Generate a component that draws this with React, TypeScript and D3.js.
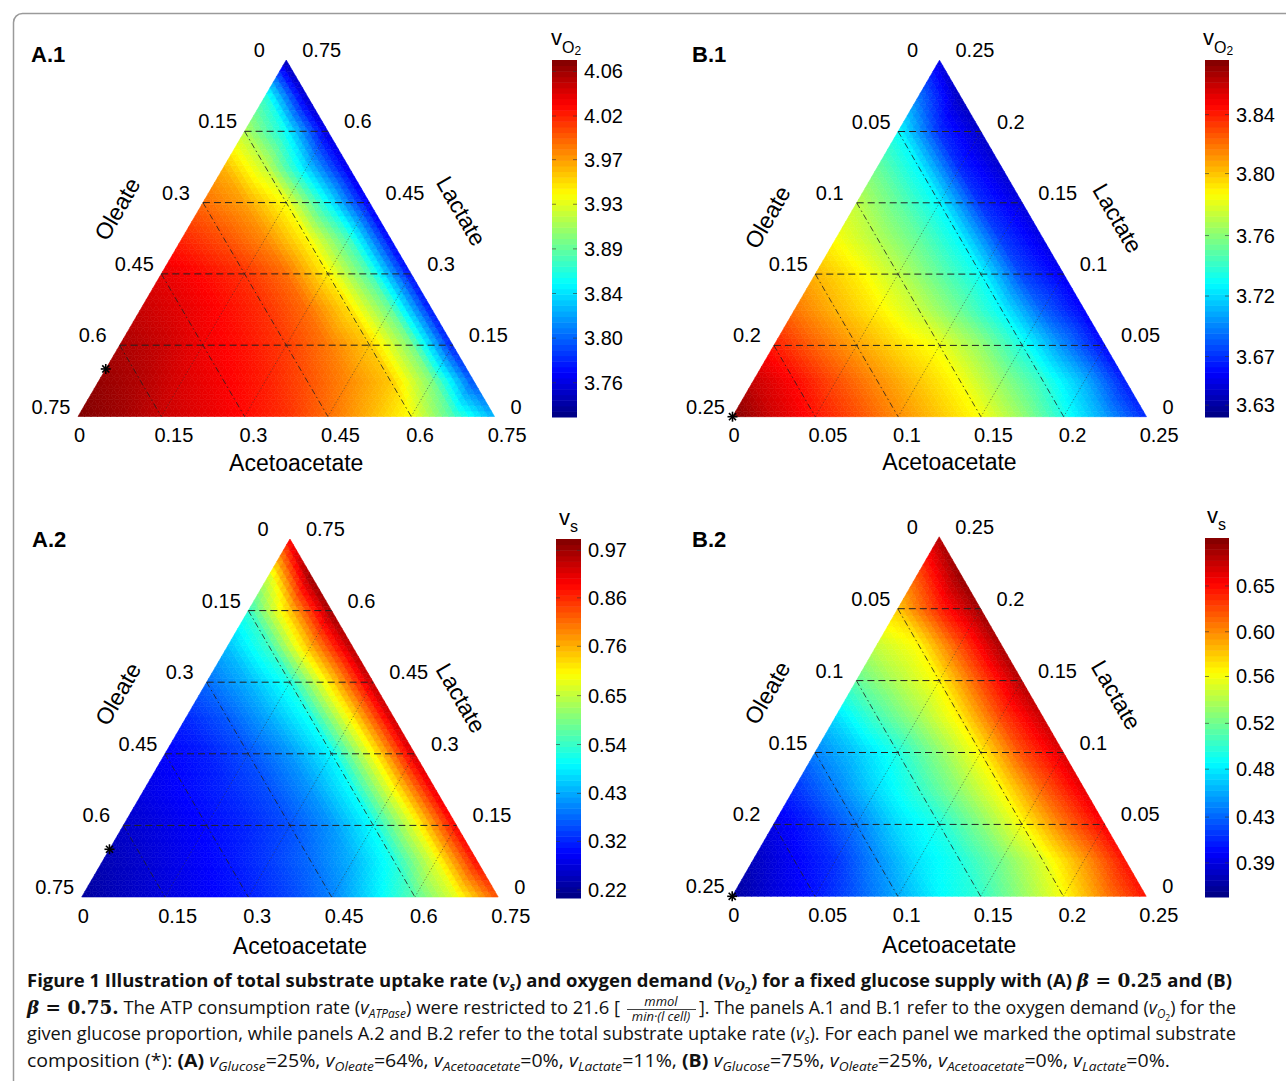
import React from "react";
import * as d3 from "d3";

// axis tick labels of the ternary plots (remaining share after glucose)
const ternTicksA = ["0", "0.15", "0.3", "0.45", "0.6", "0.75"];
const ternTicksB = ["0", "0.05", "0.1", "0.15", "0.2", "0.25"];

// values read at the 1/10 grid nodes
// row = lactate step (bottom -> top), column = acetoacetate step
const vO2_A = [
  [4.071, 4.061, 4.047, 4.037, 4.026, 4.013, 3.992, 3.968, 3.94, 3.882, 3.83],
  [4.064, 4.054, 4.04, 4.03, 4.019, 4.002, 3.982, 3.961, 3.899, 3.796],
  [4.057, 4.047, 4.033, 4.023, 4.009, 3.988, 3.961, 3.899, 3.779],
  [4.047, 4.037, 4.026, 4.013, 3.992, 3.954, 3.892, 3.775],
  [4.037, 4.026, 4.013, 3.992, 3.947, 3.882, 3.772],
  [4.016, 4.002, 3.982, 3.944, 3.878, 3.768],
  [3.992, 3.975, 3.94, 3.858, 3.765],
  [3.968, 3.923, 3.841, 3.761],
  [3.916, 3.858, 3.758],
  [3.871, 3.751],
  [3.744],
];
const vO2_B = [
  [3.879, 3.86, 3.845, 3.831, 3.816, 3.802, 3.787, 3.763, 3.734, 3.705, 3.676],
  [3.862, 3.848, 3.831, 3.816, 3.802, 3.787, 3.763, 3.739, 3.71, 3.673],
  [3.843, 3.826, 3.811, 3.797, 3.785, 3.763, 3.734, 3.7, 3.668],
  [3.821, 3.806, 3.792, 3.775, 3.753, 3.727, 3.69, 3.666],
  [3.806, 3.792, 3.773, 3.751, 3.729, 3.683, 3.664],
  [3.787, 3.77, 3.751, 3.727, 3.681, 3.661],
  [3.773, 3.751, 3.727, 3.678, 3.659],
  [3.753, 3.727, 3.676, 3.656],
  [3.729, 3.678, 3.654],
  [3.695, 3.652],
  [3.661],
];
const vs_A = [
  [0.226, 0.25, 0.273, 0.297, 0.321, 0.353, 0.4, 0.48, 0.567, 0.678, 0.836],
  [0.242, 0.265, 0.289, 0.313, 0.345, 0.384, 0.44, 0.519, 0.678, 0.892],
  [0.258, 0.281, 0.305, 0.329, 0.361, 0.416, 0.503, 0.678, 0.9],
  [0.281, 0.305, 0.329, 0.361, 0.416, 0.503, 0.694, 0.916],
  [0.297, 0.321, 0.361, 0.416, 0.495, 0.694, 0.932],
  [0.329, 0.369, 0.432, 0.511, 0.71, 0.939],
  [0.384, 0.44, 0.519, 0.725, 0.947],
  [0.448, 0.543, 0.757, 0.955],
  [0.535, 0.741, 0.971],
  [0.662, 0.979],
  [0.9],
];
const vs_B = [
  [0.369, 0.389, 0.406, 0.43, 0.457, 0.484, 0.501, 0.534, 0.568, 0.612, 0.649],
  [0.379, 0.399, 0.416, 0.447, 0.477, 0.494, 0.524, 0.558, 0.602, 0.649],
  [0.393, 0.413, 0.44, 0.474, 0.494, 0.528, 0.568, 0.615, 0.656],
  [0.416, 0.443, 0.474, 0.501, 0.534, 0.571, 0.622, 0.662],
  [0.443, 0.467, 0.494, 0.531, 0.571, 0.629, 0.666],
  [0.474, 0.507, 0.538, 0.575, 0.632, 0.672],
  [0.517, 0.544, 0.571, 0.629, 0.679],
  [0.551, 0.571, 0.629, 0.683],
  [0.588, 0.642, 0.686],
  [0.629, 0.689],
  [0.679],
];

// colorbars
const cbarDomainA1 = [3.727, 4.071];
const cbarTicksA1 = [4.06, 4.017, 3.975, 3.932, 3.889, 3.846, 3.803, 3.76];
const cbarLabelsA1 = ["4.06", "4.02", "3.97", "3.93", "3.89", "3.84", "3.80", "3.76"];
const cbarDomainB1 = [3.637, 3.879];
const cbarTicksB1 = [3.842, 3.802, 3.76, 3.719, 3.678, 3.645];
const cbarLabelsB1 = ["3.84", "3.80", "3.76", "3.72", "3.67", "3.63"];
const cbarDomainA2 = [0.202, 0.995];
const cbarTicksA2 = [0.97, 0.865, 0.758, 0.649, 0.541, 0.433, 0.327, 0.22];
const cbarLabelsA2 = ["0.97", "0.86", "0.76", "0.65", "0.54", "0.43", "0.32", "0.22"];
const cbarDomainB2 = [0.359, 0.696];
const cbarTicksB2 = [0.651, 0.608, 0.566, 0.522, 0.479, 0.434, 0.391];
const cbarLabelsB2 = ["0.65", "0.60", "0.56", "0.52", "0.48", "0.43", "0.39"];

// optimal composition marker (acetoacetate, lactate)
const optimumA = [0, 0.1];
const optimumB = [0, 0];

const FONT = "'Liberation Sans', Arial, sans-serif";

const jet = (t: number) => {
  const c = (v: number) => Math.max(0, Math.min(1, v));
  const r = c(1.5 - Math.abs(4 * t - 3));
  const g = c(1.5 - Math.abs(4 * t - 2));
  const b = c(1.5 - Math.abs(4 * t - 1));
  return d3.rgb(r * 255, g * 255, b * 255).formatHex();
};

// piecewise linear value on the node grid, a/l are fractions of the side
function interp(grid: number[][], a: number, l: number) {
  const n = grid.length - 1;
  const u = a * n, w = l * n;
  const i = Math.min(Math.floor(u), n - 1);
  const k = Math.min(Math.floor(w), n - 1 - i);
  const fu = u - i, fw = w - k;
  if (fu + fw <= 1) {
    return (1 - fu - fw) * grid[k][i] + fu * grid[k][i + 1] + fw * grid[k + 1][i];
  }
  return (1 - fu) * grid[k + 1][i] + (1 - fw) * grid[k][i + 1] + (fu + fw - 1) * grid[k + 1][i + 1];
}

function Panel(props: any) {
  const p = props.p;
  const side = +p.ticks[p.ticks.length - 1];
  const x = d3.scaleLinear().domain([0, side]).range([p.x0, p.x0 + p.W]);
  const y = d3.scaleLinear().domain([0, side]).range([p.base, p.base - p.H]);
  const pt = (ac: number, la: number) => [x(ac + la / 2), y(la)];
  const color = d3.scaleSequential(jet).domain(p.domain).clamp(true);

  // heat map triangles
  const N = 64;
  const cells: { d: string; c: string }[] = [];
  const tri = (vs: number[][]) => {
    const ca = (vs[0][0] + vs[1][0] + vs[2][0]) / 3;
    const cl = (vs[0][1] + vs[1][1] + vs[2][1]) / 3;
    const v = interp(p.grid, ca / N, cl / N);
    const ps = vs.map((q) => pt((q[0] / N) * side, (q[1] / N) * side));
    cells.push({ d: "M" + ps.map((q) => q[0].toFixed(2) + "," + q[1].toFixed(2)).join("L") + "Z", c: color(v) });
  };
  for (let r = 0; r < N; r++) {
    for (let c = 0; c < N - r; c++) {
      tri([[c, r], [c + 1, r], [c, r + 1]]);
      if (c < N - 1 - r) tri([[c + 1, r], [c + 1, r + 1], [c, r + 1]]);
    }
  }

  const inner = p.ticks.slice(1, -1).map(Number);
  const apex = pt(0, side);

  // colorbar
  const cb = p.cbar;
  const cy = d3.scaleLinear().domain(p.domain).range([cb.y1, cb.y0]);
  const nb = 64;
  const bands = d3.range(nb).map((b) => {
    const v0 = p.domain[0] + ((p.domain[1] - p.domain[0]) * b) / nb;
    const v1 = p.domain[0] + ((p.domain[1] - p.domain[0]) * (b + 1)) / nb;
    return { y: cy(v1), h: cy(v0) - cy(v1) + 0.5, c: color((v0 + v1) / 2) };
  });

  const star = pt(p.star[0], p.star[1]);
  const line = (a: number[], b: number[]) => `M${a[0]},${a[1]}L${b[0]},${b[1]}`;

  return (
    <g fontFamily={FONT} fill="#000">
      <g>
        {cells.map((t, i) => (
          <path key={i} d={t.d} fill={t.c} stroke={t.c} strokeWidth={0.6} />
        ))}
      </g>
      {/* grid */}
      <g fill="none">
        {inner.map((f: number, i: number) => (
          <path key={"h" + i} d={line(pt(0, f), pt(side - f, f))} stroke="#222" strokeWidth={1} strokeDasharray="7,4" />
        ))}
        {inner.map((f: number, i: number) => (
          <path key={"o" + i} d={line(pt(0, side - f), pt(side - f, 0))} stroke="#222" strokeWidth={0.8} strokeDasharray="6,3,1.5,3" />
        ))}
        {inner.map((f: number, i: number) => (
          <path key={"a" + i} d={line(pt(f, 0), pt(f, side - f))} stroke="#333" strokeOpacity={0.7} strokeWidth={0.8} strokeDasharray="1.2,2" />
        ))}
      </g>
      {/* star marker */}
      <g stroke="#000" strokeWidth={1.6}>
        {[0, 45, 90, 135].map((a) => {
          const r = (a * Math.PI) / 180;
          return <line key={a} x1={star[0] - 5 * Math.cos(r)} y1={star[1] - 5 * Math.sin(r)} x2={star[0] + 5 * Math.cos(r)} y2={star[1] + 5 * Math.sin(r)} />;
        })}
      </g>
      {/* tick labels */}
      <g fontSize={20}>
        {p.ticks.map((t: string, j: number) => {
          const q = pt(0, side - +t);
          return <text key={"l" + j} x={q[0] - 27} y={q[1] - 3} textAnchor="middle">{t}</text>;
        })}
        {p.ticks.map((t: string, j: number) => {
          const q = pt(side - +t, +t);
          return <text key={"r" + j} x={q[0] + 16} y={q[1] - 3}>{t}</text>;
        })}
        {p.ticks.map((t: string, j: number) => {
          const q = pt(+t, 0);
          return <text key={"b" + j} x={q[0] + 1.5 + 3.7 * (t.length - 1)} y={p.base + 25.5} textAnchor="middle">{t}</text>;
        })}
      </g>
      <g fontSize={23}>
        <text x={p.x0 + p.W / 2 + 10} y={p.base + p.titleDy} textAnchor="middle">Acetoacetate</text>
        <text transform={`translate(${apex[0] + p.oleate[0]},${apex[1] + p.oleate[1]}) rotate(-60)`} textAnchor="middle" dy="0.35em">Oleate</text>
        <text transform={`translate(${apex[0] + p.lactate[0]},${apex[1] + p.lactate[1]}) rotate(60)`} textAnchor="middle" dy="0.35em">Lactate</text>
      </g>
      <text x={p.lab[0]} y={p.lab[1]} fontSize={22} fontWeight="bold">{p.name}</text>
      {/* colorbar */}
      <g>
        {bands.map((b, i) => (
          <rect key={i} x={cb.x} y={b.y} width={cb.w} height={b.h} fill={b.c} />
        ))}
        {p.cticks.map((t: number, i: number) => (
          <g key={i} stroke="#333" strokeOpacity={0.6}>
            <line x1={cb.x} x2={cb.x + 4} y1={cy(t)} y2={cy(t)} />
            <line x1={cb.x + cb.w - 4} x2={cb.x + cb.w} y1={cy(t)} y2={cy(t)} />
          </g>
        ))}
        {p.clabels.map((t: string, i: number) => (
          <text key={i} x={cb.x + cb.w + 7} y={cy(p.cticks[i]) + 7} fontSize={20}>{t}</text>
        ))}
        {p.sub === "O2" ? (
          <text x={cb.tx} y={cb.ty} fontSize={22}>
            v<tspan fontSize={16} dy={8}>O</tspan><tspan fontSize={12} dy={2}>2</tspan>
          </text>
        ) : (
          <text x={cb.tx} y={cb.ty} fontSize={22}>
            v<tspan fontSize={16} dy={7}>s</tspan>
          </text>
        )}
      </g>
    </g>
  );
}

const panels = [
  {
    name: "A.1", lab: [31, 62], x0: 78, base: 416.5, W: 416.5, H: 356.5, ticks: ternTicksA, grid: vO2_A,
    domain: cbarDomainA1, cticks: cbarTicksA1, clabels: cbarLabelsA1, sub: "O2", star: optimumA,
    cbar: { x: 552, w: 25, y0: 60, y1: 417, tx: 551, ty: 45 }, titleDy: 54, oleate: [-169, 149], lactate: [175, 151],
  },
  {
    name: "B.1", lab: [692, 62], x0: 732.5, base: 416.7, W: 414, H: 356.5, ticks: ternTicksB, grid: vO2_B,
    domain: cbarDomainB1, cticks: cbarTicksB1, clabels: cbarLabelsB1, sub: "O2", star: optimumB,
    cbar: { x: 1205, w: 24, y0: 60, y1: 417, tx: 1203, ty: 45 }, titleDy: 53, oleate: [-172, 157], lactate: [178, 158],
  },
  {
    name: "A.2", lab: [32, 547], x0: 81.7, base: 897, W: 416.5, H: 358, ticks: ternTicksA, grid: vs_A,
    domain: cbarDomainA2, cticks: cbarTicksA2, clabels: cbarLabelsA2, sub: "s", star: optimumA,
    cbar: { x: 556, w: 25, y0: 539, y1: 898, tx: 559, ty: 525 }, titleDy: 57, oleate: [-172, 155], lactate: [171, 159],
  },
  {
    name: "B.2", lab: [692, 547], x0: 732.2, base: 896.3, W: 414, H: 359.5, ticks: ternTicksB, grid: vs_B,
    domain: cbarDomainB2, cticks: cbarTicksB2, clabels: cbarLabelsB2, sub: "s", star: optimumB,
    cbar: { x: 1205, w: 24, y0: 538, y1: 897, tx: 1207, ty: 523 }, titleDy: 57, oleate: [-172, 156], lactate: [177, 158],
  },
];

const CAP = "'Open Sans', sans-serif";
const SERIF = "'DejaVu Serif', serif";

export default function App() {
  return (
    <svg width={1286} height={1081} style={{ position: "absolute", left: 0, top: 0, background: "#fff" }}>
      <rect x={0} y={0} width={1286} height={1081} fill="#fff" />
      <rect x={13.5} y={13.5} width={1320} height={1120} rx={9} fill="none" stroke="#9a9a9a" strokeWidth={1.5} />
      {panels.map((p) => (
        <Panel key={p.name} p={p} />
      ))}
      <g fontFamily={CAP} fontSize={18.5} fill="#111">
        <text x={27} y={987} textLength={1205} lengthAdjust="spacingAndGlyphs" fontWeight="bold">
          Figure 1 Illustration of total substrate uptake rate (<tspan fontFamily={SERIF} fontStyle="italic">v</tspan>
          <tspan fontStyle="italic" fontSize={12} dy={4}>s</tspan>
          <tspan dy={-4}>) and oxygen demand (</tspan>
          <tspan fontFamily={SERIF} fontStyle="italic">v</tspan>
          <tspan fontFamily={SERIF} fontStyle="italic" fontSize={12} dy={4}>O</tspan>
          <tspan fontFamily={SERIF} fontSize={9} dy={3}>2</tspan>
          <tspan dy={-7}>) for a fixed glucose supply with (A) </tspan>
          <tspan fontFamily={SERIF} fontStyle="italic">β</tspan>
          <tspan fontFamily={SERIF}> = 0.25</tspan> and (B)
        </text>
        <text x={27} y={1014} textLength={593} lengthAdjust="spacingAndGlyphs">
          <tspan fontFamily={SERIF} fontStyle="italic" fontWeight="bold">β</tspan>
          <tspan fontFamily={SERIF} fontWeight="bold"> = 0.75.</tspan> The ATP consumption rate (<tspan fontStyle="italic">v</tspan>
          <tspan fontStyle="italic" fontSize={12} dy={4}>ATPase</tspan>
          <tspan dy={-4}>) were restricted to 21.6 [</tspan>
        </text>
        <text x={661} y={1006} fontSize={13} fontStyle="italic" textAnchor="middle">mmol</text>
        <line x1={627} x2={696} y1={1009.5} y2={1009.5} stroke="#111" strokeWidth={0.8} />
        <text x={661} y={1021} fontSize={13} fontStyle="italic" textAnchor="middle">min·(l cell)</text>
        <text x={699} y={1014} textLength={537} lengthAdjust="spacingAndGlyphs">
          ]. The panels A.1 and B.1 refer to the oxygen demand (<tspan fontStyle="italic">v</tspan>
          <tspan fontStyle="italic" fontSize={12} dy={4}>O</tspan>
          <tspan fontSize={9} dy={3}>2</tspan>
          <tspan dy={-7}>) for the</tspan>
        </text>
        <text x={27} y={1040} textLength={1209} lengthAdjust="spacingAndGlyphs">
          given glucose proportion, while panels A.2 and B.2 refer to the total substrate uptake rate (<tspan fontStyle="italic">v</tspan>
          <tspan fontStyle="italic" fontSize={12} dy={4}>s</tspan>
          <tspan dy={-4}>). For each panel we marked the optimal substrate</tspan>
        </text>
        <text x={27} y={1067} textLength={1143} lengthAdjust="spacingAndGlyphs">
          composition (*): <tspan fontWeight="bold">(A)</tspan> <tspan fontStyle="italic">v</tspan>
          <tspan fontStyle="italic" fontSize={13} dy={4}>Glucose</tspan>
          <tspan dy={-4}>=25%, </tspan><tspan fontStyle="italic">v</tspan>
          <tspan fontStyle="italic" fontSize={13} dy={4}>Oleate</tspan>
          <tspan dy={-4}>=64%, </tspan><tspan fontStyle="italic">v</tspan>
          <tspan fontStyle="italic" fontSize={13} dy={4}>Acetoacetate</tspan>
          <tspan dy={-4}>=0%, </tspan><tspan fontStyle="italic">v</tspan>
          <tspan fontStyle="italic" fontSize={13} dy={4}>Lactate</tspan>
          <tspan dy={-4}>=11%, </tspan><tspan fontWeight="bold">(B)</tspan> <tspan fontStyle="italic">v</tspan>
          <tspan fontStyle="italic" fontSize={13} dy={4}>Glucose</tspan>
          <tspan dy={-4}>=75%, </tspan><tspan fontStyle="italic">v</tspan>
          <tspan fontStyle="italic" fontSize={13} dy={4}>Oleate</tspan>
          <tspan dy={-4}>=25%, </tspan><tspan fontStyle="italic">v</tspan>
          <tspan fontStyle="italic" fontSize={13} dy={4}>Acetoacetate</tspan>
          <tspan dy={-4}>=0%, </tspan><tspan fontStyle="italic">v</tspan>
          <tspan fontStyle="italic" fontSize={13} dy={4}>Lactate</tspan>
          <tspan dy={-4}>=0%.</tspan>
        </text>
      </g>
    </svg>
  );
}
